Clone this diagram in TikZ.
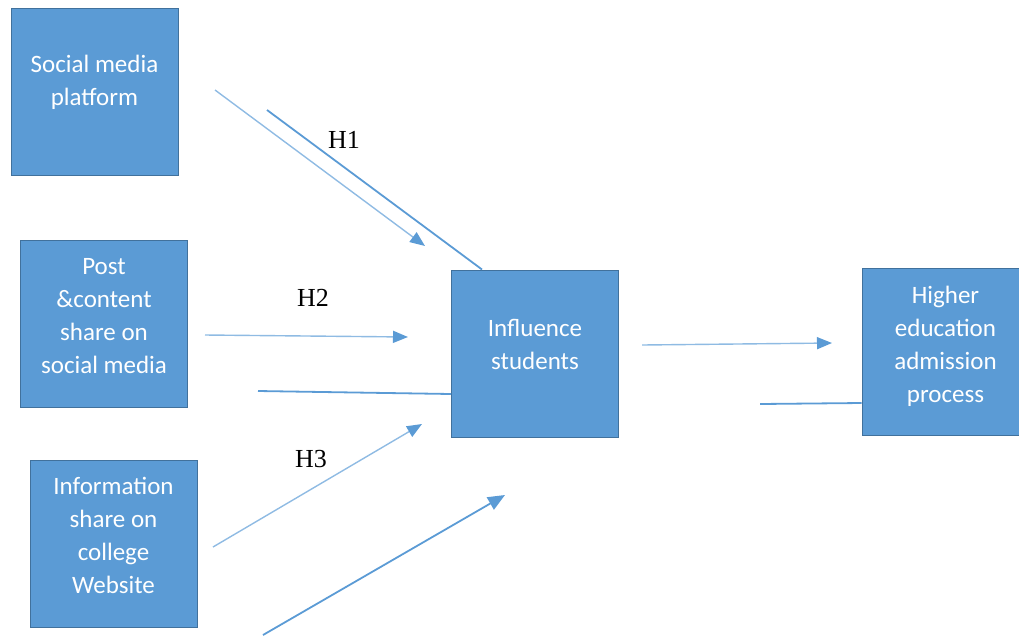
\documentclass[tikz,border=0pt]{standalone}
\usepackage{fontspec}
\setmainfont{Carlito}
\newfontfamily\hfont{Liberation Serif}
\usetikzlibrary{arrows.meta}
\definecolor{boxfill}{RGB}{91,155,213}
\definecolor{boxline}{RGB}{65,113,156}
\definecolor{paleblue}{RGB}{143,187,227}
\definecolor{midblue}{RGB}{91,155,213}

\begin{document}
\begin{tikzpicture}[x=1pt,y=-1pt,
  box/.style={draw=boxline,fill=boxfill,line width=1pt,minimum width=167pt,minimum height=167pt,inner sep=0pt},
  boxtxt/.style={text=white,align=center,font=\fontsize{25}{33}\selectfont},
  hyp/.style={font=\hfont\fontsize{26}{30}\selectfont},
  palearrow/.style={draw=paleblue,line width=1.4pt,-{Triangle[length=15pt,width=12pt,color=midblue]}},
  darkline/.style={draw=midblue,line width=1.8pt},
  darkarrow/.style={darkline,-{Triangle[length=17pt,width=14pt]}}]
\useasboundingbox (0,0) rectangle (1019,638);
% boxes
\node[box] (smp) at (94.5,91.5) {};
\node[box] (pcs) at (104,324) {};
\node[box] (isc) at (113.5,543.5) {};
\node[box] (inf) at (535,353.5) {};
\node[box] (hea) at (945.5,352) {};
\node[boxtxt] (smpt) at ([yshift=9pt]smp.center) {Social media\\platform};
\node[boxtxt] (pcst) at ([yshift=8pt]pcs.center) {Post\\\&content\\share on\\social media};
\node[boxtxt] (isct) at ([yshift=8pt]isc.center) {Information\\share on\\college\\Website};
\node[boxtxt] (inft) at ([yshift=9pt]inf.center) {Influence\\students};
\node[boxtxt] (heat) at ([yshift=6pt]hea.center) {Higher\\education\\admission\\process};
% hypothesis labels
\node[hyp] (h1) at (344,140) {H1};
\node[hyp] (h2) at (313,298) {H2};
\node[hyp] (h3) at (311,459) {H3};
% free ends
\coordinate (a1s) at (215,90);  \coordinate (a1e) at (425,246);
\coordinate (l1s) at (267,110);
\coordinate (a2s) at (205,335); \coordinate (a2e) at (408,337);
\coordinate (l2s) at (258,391);
\coordinate (a3s) at (213,547); \coordinate (a3e) at (422,424);
\coordinate (a4s) at (263,635); \coordinate (a4e) at (505,495);
\coordinate (a5s) at (642,345); \coordinate (a5e) at (832,343);
\coordinate (l5s) at (760,404);
% connectors
\draw[palearrow] (a1s) -- (a1e);
\draw[darkline] (l1s) -- ([xshift=31pt]inf.north west);
\draw[palearrow] (a2s) -- (a2e);
\draw[darkline] (l2s) -- ([yshift=-40.5pt]inf.west);
\draw[palearrow] (a3s) -- (a3e);
\draw[darkarrow] (a4s) -- (a4e);
\draw[palearrow] (a5s) -- (a5e);
\draw[darkline] (l5s) -- ([yshift=-51pt]hea.west);
\end{tikzpicture}
\end{document}
